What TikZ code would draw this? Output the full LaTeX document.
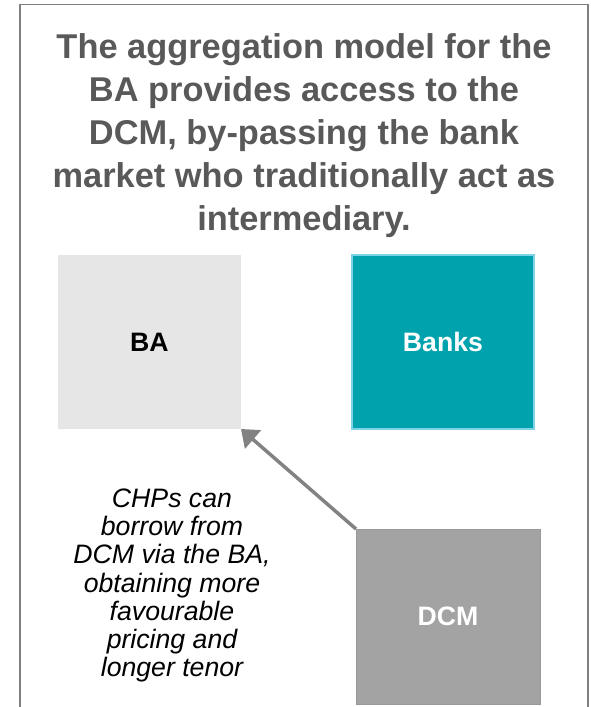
\documentclass[tikz,border=0pt]{standalone}
\usepackage{fontspec}
\setmainfont{Liberation Sans}
\usetikzlibrary{arrows.meta}
\definecolor{titlegray}{HTML}{595959}
\definecolor{framegray}{HTML}{7F7F7F}
\definecolor{bagray}{HTML}{E6E6E6}
\definecolor{bankteal}{HTML}{00A3AD}
\definecolor{bankedge}{HTML}{7FD3E6}
\definecolor{dcmgray}{HTML}{A3A3A3}
\definecolor{dcmedge}{HTML}{999999}
\definecolor{arrowgray}{HTML}{828282}
\tikzset{
  box/.style={rectangle, inner sep=0pt, outer sep=0pt, font=\bfseries\fontsize{20}{24}\selectfont},
  titletext/.style={align=center, text=titlegray, inner sep=0pt, font=\bfseries\fontsize{25.8}{32.25}\selectfont},
  notetext/.style={align=center, inner sep=0pt, font=\itshape\fontsize{20}{21.15}\selectfont},
  frame/.style={draw=framegray, line width=1.1pt},
  link/.style={draw=arrowgray, line width=2.6pt, -{Triangle[length=12pt,width=18pt]}}
}
\begin{document}
\begin{tikzpicture}[x=0.75pt,y=-0.75pt]
\useasboundingbox (0,0) rectangle (591,707);
\fill[white] (0,0) rectangle (591,707);
\draw[frame] (20,712) -- (20,4.5) -- (588,4.5) -- (588,712);
\node[titletext] (title) at (304,136) {The aggregation model for the\\BA provides access to the\\DCM, by-passing the bank\\market who traditionally act as\\intermediary.};
\node[box, fill=bagray, minimum width=137.25pt, minimum height=130.5pt, text=black] (ba) at (149.5,342) {BA};
\node[box, fill=bankteal, draw=bankedge, line width=1.1pt, minimum width=136.5pt, minimum height=130.5pt, text=white] (banks) at (443,342) {Banks};
\node[box, fill=dcmgray, draw=dcmedge, line width=0.6pt, minimum width=138pt, minimum height=131.25pt, text=white] (dcm) at (448,616.5) {DCM};
\node[notetext] (note) at (172,585.5) {CHPs can\\borrow from\\DCM via the BA,\\obtaining more\\favourable\\pricing and\\longer tenor};
\draw[link] (dcm.north west) -- (ba.south east);
\end{tikzpicture}
\end{document}
